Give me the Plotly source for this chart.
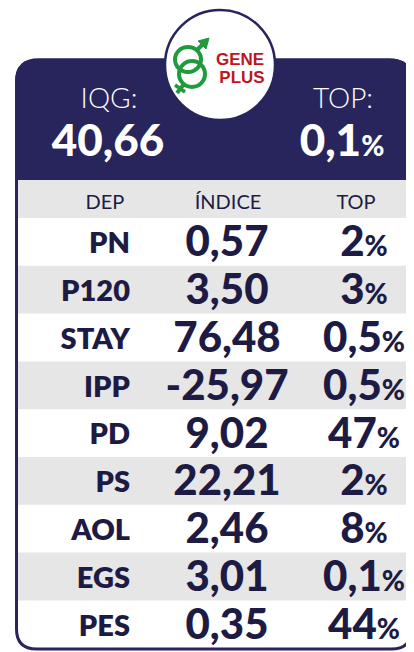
import plotly.graph_objects as go

# ---------------- data ----------------
deps = ["PN", "P120", "STAY", "IPP", "PD", "PS", "AOL", "EGS", "PES"]
indices = ["0,57", "3,50", "76,48", "-25,97", "9,02", "22,21", "2,46", "3,01", "0,35"]
tops = ["2", "3", "0,5", "0,5", "47", "2", "8", "0,1", "44"]
col_headers = ["DEP", "ÍNDICE", "TOP"]
iqg_label = "IQG:"
iqg_value = "40,66"
top_label = "TOP:"
top_value = "0,1"

# ---------------- style ----------------
VW, VH = 414, 652          # browser viewport
OFF = 8                    # default page body margin
NAVY = "#27255c"
INK = "#1d1b44"
GRAY = "#e6e6e6"
GREEN = "#1f9a3c"
RED = "#c0151d"
BOLD = "Lato"
LIGHT = "Lato"
DY = 4                     # vertical nudge for row text

card_l, card_r, card_t, card_b = 16.5, 411.5, 60, 649
head_b = 180
row_top = 218
row_h = 47.8
x_dep, x_idx, x_top = 130, 227, 364

fig = go.Figure()
shapes = []

def rpath(l, t, r, b, rt, rb):
    return (f"M {l},{t+rt} Q {l},{t} {l+rt},{t} L {r-rt},{t} Q {r},{t} {r},{t+rt} "
            f"L {r},{b-rb} Q {r},{b} {r-rb},{b} L {l+rb},{b} Q {l},{b} {l},{b-rb} Z")

# card
shapes.append(dict(type="path", path=rpath(card_l, card_t, card_r, card_b, 22, 20),
                   fillcolor="white", line=dict(color=NAVY, width=3), layer="below"))
# navy header
shapes.append(dict(type="path",
                   path=(f"M {card_l-1.5},{card_t+22} Q {card_l-1.5},{card_t-1.5} {card_l+22},{card_t-1.5} "
                         f"L {card_r-22},{card_t-1.5} Q {card_r+1.5},{card_t-1.5} {card_r+1.5},{card_t+22} "
                         f"L {card_r+1.5},{head_b} L {card_l-1.5},{head_b} Z"),
                   fillcolor=NAVY, line=dict(width=0), layer="below"))
# column header band
shapes.append(dict(type="rect", x0=card_l+1.5, x1=card_r-1.5, y0=head_b, y1=row_top,
                   fillcolor=GRAY, line=dict(width=0), layer="below"))
# striped rows
for i in range(len(deps)):
    if i % 2 == 1:
        shapes.append(dict(type="rect", x0=card_l+1.5, x1=card_r-1.5,
                           y0=row_top + i*row_h, y1=row_top + (i+1)*row_h,
                           fillcolor=GRAY, line=dict(width=0), layer="below"))

# logo circle
cx, cy, cr = 220, 65, 55
shapes.append(dict(type="circle", x0=cx-cr, x1=cx+cr, y0=cy-cr, y1=cy+cr,
                   fillcolor="white", line=dict(color=NAVY, width=2.5), layer="below"))
# logo symbol (interlocked gender signs)
shapes.append(dict(type="circle", x0=175, x1=201, y0=47, y1=72,
                   line=dict(color=GREEN, width=4), layer="below"))
shapes.append(dict(type="circle", x0=179, x1=205, y0=61, y1=87,
                   line=dict(color=GREEN, width=4), layer="below"))
shapes.append(dict(type="line", x0=197, y0=50, x1=205, y1=42,
                   line=dict(color=GREEN, width=4), layer="below"))
shapes.append(dict(type="path", path="M 198,41 L 209,38 L 206,49 Z",
                   fillcolor=GREEN, line=dict(color=GREEN, width=1), layer="below"))
shapes.append(dict(type="line", x0=184, y0=84, x1=177, y1=93,
                   line=dict(color=GREEN, width=4), layer="below"))
shapes.append(dict(type="line", x0=175, y0=85, x1=185, y1=92,
                   line=dict(color=GREEN, width=3.5), layer="below"))

# logo text
fig.add_trace(go.Scatter(x=[240, 242], y=[61, 78.5], mode="text", text=["GENE", "PLUS"],
                         textposition="middle center", hoverinfo="skip",
                         textfont=dict(family="Liberation Sans Narrow, Liberation Sans", size=17,
                                       color=RED, weight="bold")))

# header summary
fig.add_trace(go.Scatter(x=[109, 343], y=[101, 101], mode="text", text=[iqg_label, top_label],
                         textposition="middle center", hoverinfo="skip",
                         textfont=dict(family=LIGHT, size=28, color="white", weight=300)))
fig.add_trace(go.Scatter(x=[108, 342], y=[145, 145], mode="text",
                         text=[iqg_value, top_value + "<span style='font-size:28px'>%</span>"],
                         textposition="middle center", hoverinfo="skip",
                         textfont=dict(family=BOLD, size=44, color="white", weight=900)))

# column headers
fig.add_trace(go.Scatter(x=[105, 228, 356], y=[204] * 3, mode="text", text=col_headers,
                         textposition="middle center", hoverinfo="skip",
                         textfont=dict(family=LIGHT, size=20, color=INK)))

ys = [row_top + (i + 0.5) * row_h + DY for i in range(len(deps))]
fig.add_trace(go.Scatter(x=[x_dep]*len(deps), y=ys, mode="text", text=deps,
                         textposition="middle left", hoverinfo="skip",
                         textfont=dict(family=BOLD, size=29, color=INK, weight=800)))
fig.add_trace(go.Scatter(x=[x_idx]*len(deps), y=ys, mode="text", text=indices,
                         textposition="middle center", hoverinfo="skip",
                         textfont=dict(family=BOLD, size=42, color=INK, weight=900)))
fig.add_trace(go.Scatter(x=[x_top]*len(deps), y=ys, mode="text",
                         text=[t + "<span style='font-size:28px'>%</span>" for t in tops],
                         textposition="middle center", hoverinfo="skip",
                         textfont=dict(family=BOLD, size=42, color=INK, weight=900)))

# the page body has an 8px margin: shift the axes so axis units equal page pixels
fig.update_layout(
    width=VW - OFF, height=VH - OFF, autosize=False,
    margin=dict(l=0, r=0, t=0, b=0),
    paper_bgcolor="white", plot_bgcolor="white",
    showlegend=False, shapes=shapes,
    xaxis=dict(range=[OFF, VW], visible=False, fixedrange=True),
    yaxis=dict(range=[VH, OFF], visible=False, fixedrange=True),
)
fig.write_html("out.html", config={"displayModeBar": False})
